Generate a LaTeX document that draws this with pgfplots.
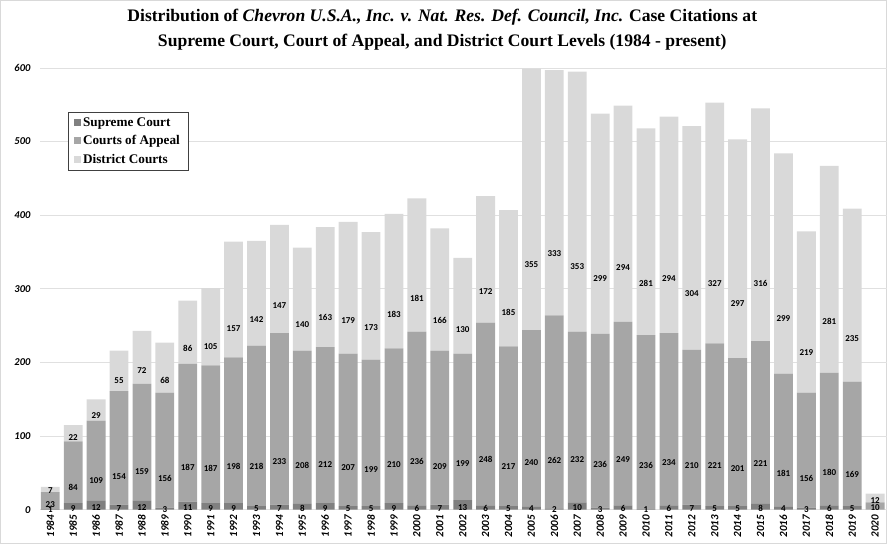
\documentclass[border=0pt]{standalone}
\usepackage{pgfplots}
\usepackage{pgfplotstable}
\pgfplotsset{compat=1.18}
\usepackage{fontspec}
\setmainfont{Carlito}
\newfontfamily\titlefont{Liberation Serif}
\definecolor{sccol}{HTML}{808080}
\definecolor{cacol}{HTML}{A6A6A6}
\definecolor{dccol}{HTML}{D9D9D9}
\pgfplotstableread{
x year sc ca dc
0 1984 1 23 7
1 1985 9 84 22
2 1986 12 109 29
3 1987 7 154 55
4 1988 12 159 72
5 1989 3 156 68
6 1990 11 187 86
7 1991 9 187 105
8 1992 9 198 157
9 1993 5 218 142
10 1994 7 233 147
11 1995 8 208 140
12 1996 9 212 163
13 1997 5 207 179
14 1998 5 199 173
15 1999 9 210 183
16 2000 6 236 181
17 2001 7 209 166
18 2002 13 199 130
19 2003 6 248 172
20 2004 5 217 185
21 2005 4 240 355
22 2006 2 262 333
23 2007 10 232 353
24 2008 3 236 299
25 2009 6 249 294
26 2010 1 236 281
27 2011 6 234 294
28 2012 7 210 304
29 2013 5 221 327
30 2014 5 201 297
31 2015 8 221 316
32 2016 4 181 299
33 2017 3 156 219
34 2018 6 180 281
35 2019 5 169 235
36 2020 0 10 12
}\data
\begin{document}
\begin{tikzpicture}
\path (-40pt,-34pt) rectangle (847pt,510pt);
\draw[black!15, line width=0.8pt] (-39.5pt,-33.5pt) rectangle (846.5pt,509.5pt);
\begin{axis}[
  at={(0pt,0pt)}, anchor=south west,
  scale only axis, width=847pt, height=442pt,
  ybar stacked, bar width=0.82,
  xmin=-0.45, xmax=36.5, ymin=0, ymax=600,
  ytick={0,100,...,600},
  xtick=data, xticklabels from table={\data}{year},
  /pgf/number format/assume math mode=true,
  x tick label style={rotate=90, anchor=east, yshift=0pt, xshift=-2pt, font=\fontsize{11}{11}\selectfont\bfseries\itshape},
  y tick label style={font=\fontsize{10.5}{11}\selectfont\bfseries\itshape, xshift=-6pt},
  ymajorgrids, grid style={black!12, line width=0.9pt},
  axis line style={draw=none}, major tick length=0pt,
  title={Distribution of \textit{Chevron U.S.A., Inc. v. Nat. Res. Def. Council, Inc.} Case Citations at\\Supreme Court, Court of Appeal, and District Court Levels (1984 - present)},
  title style={font=\titlefont\bfseries\fontsize{17.6}{25}\selectfont, align=center, anchor=south, at={(0.5,1)}, yshift=8pt, xshift=-21pt},
  point meta=explicit,
  nodes near coords,
  every node near coord/.append style={font=\fontsize{9}{9}\selectfont\bfseries, anchor=center, shift={(axis direction cs:0,-\rawy/4)}, inner sep=0pt},
  legend style={at={(rel axis cs:0.033,0.9)}, anchor=north west, draw=black!75, font=\titlefont\bfseries\fontsize{13.2}{15}\selectfont, row sep=4pt, inner xsep=6pt, inner ysep=3pt},
  legend cell align=left,
  legend image code/.code={\fill[#1] (0pt,-3.5pt) rectangle (7pt,3.5pt);},
]
\addplot[fill=sccol, draw=none, visualization depends on={\thisrow{sc}\as\rawy}] table[x=x, y=sc, meta=sc]{\data};
\addplot[fill=cacol, draw=none, visualization depends on={\thisrow{ca}\as\rawy}] table[x=x, y=ca, meta=ca]{\data};
\addplot[fill=dccol, draw=none, visualization depends on={\thisrow{dc}\as\rawy}] table[x=x, y=dc, meta=dc]{\data};
\legend{Supreme Court, Courts of Appeal, District Courts}
\end{axis}
\end{tikzpicture}
\end{document}
